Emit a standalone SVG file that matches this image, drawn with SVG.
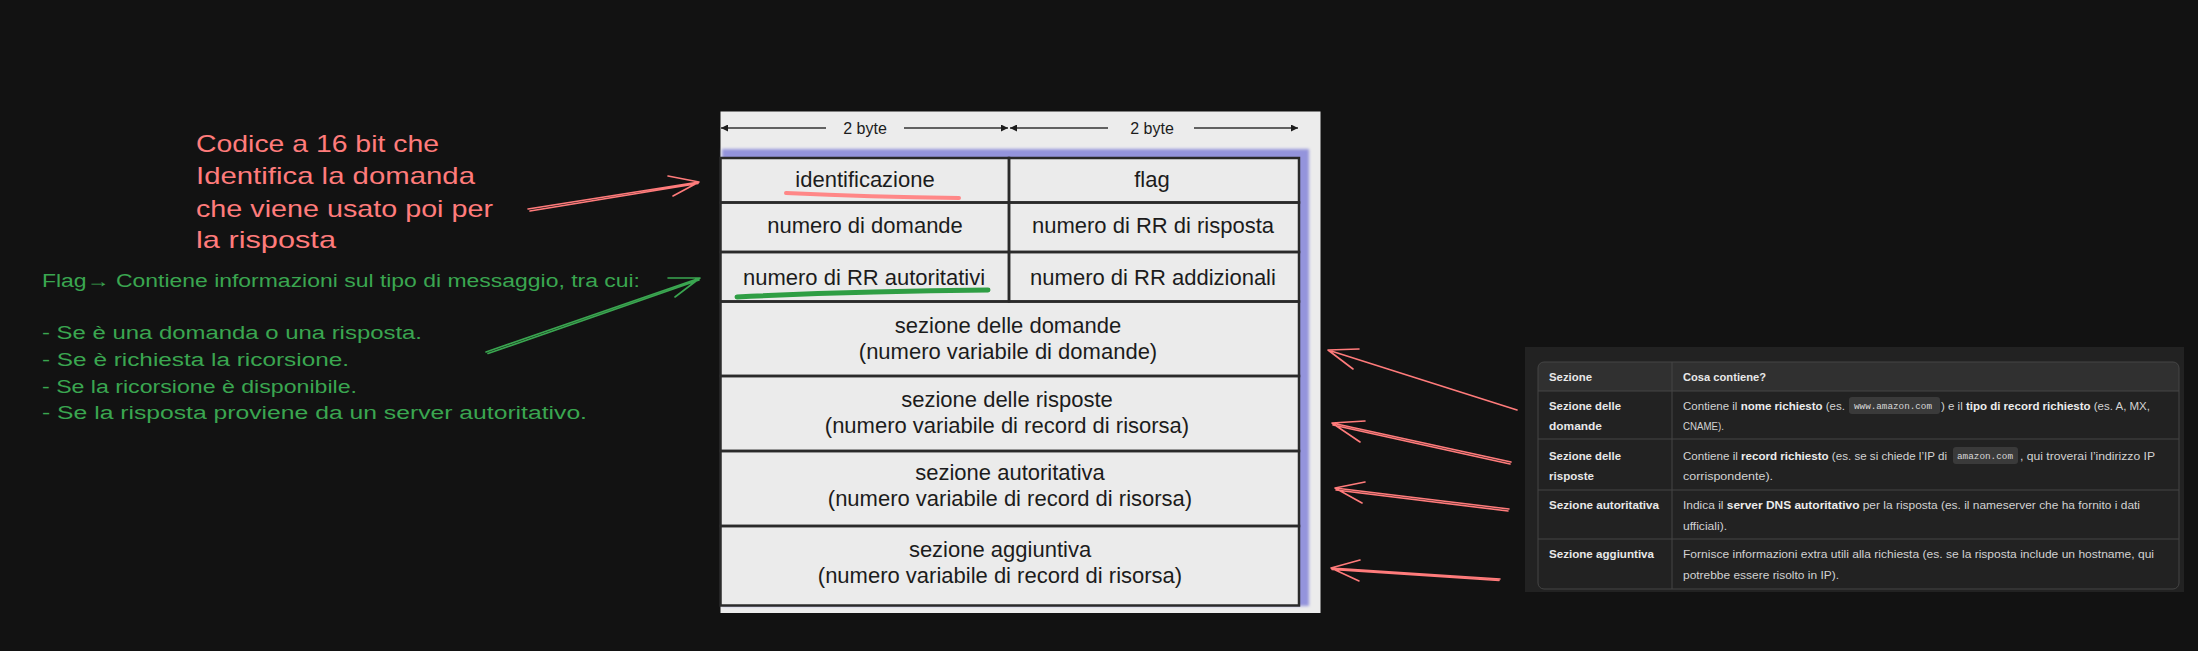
<svg xmlns="http://www.w3.org/2000/svg" width="2198" height="651" viewBox="0 0 2198 651">
<style>
.cell{font-family:"Liberation Sans",Arial,sans-serif;font-size:22px;fill:#1c1c1c;text-anchor:middle}
.byte{font-family:"Liberation Sans",Arial,sans-serif;font-size:16px;fill:#1c1c1c;text-anchor:middle}
.red{font-family:"Liberation Sans",Arial,sans-serif;font-size:24px;fill:#ff7b7b}
.green{font-family:"Liberation Sans",Arial,sans-serif;font-size:18px;fill:#3aa650}
.th{font-family:"Liberation Sans",Arial,sans-serif;font-size:11.6px;font-weight:700;fill:#e8e8e8}
.td{font-family:"Liberation Sans",Arial,sans-serif;font-size:11.2px;fill:#d2d2d2}
.td tspan.b{font-weight:700;fill:#ececec}
.code{font-family:"Liberation Mono",monospace;font-size:9.3px;fill:#d8d8d8}
.chip{fill:#3a3a3a}
.grid{stroke:#2a2a2a;stroke-width:2.5;fill:none}
.rgrid{stroke:#444;stroke-width:1;fill:none}
.ra{stroke:#ff7b7b;stroke-width:1.6;fill:none;stroke-linecap:round;stroke-linejoin:round}
.ga{stroke:#3aa650;stroke-width:1.6;fill:none;stroke-linecap:round;stroke-linejoin:round}
.dim{stroke:#333;stroke-width:1.6}
</style>
<defs>
<filter id="blur" x="-5%" y="-5%" width="110%" height="110%"><feGaussianBlur stdDeviation="1.6"/></filter>
<marker id="tri" viewBox="0 0 10 10" refX="10" refY="5" markerWidth="7" markerHeight="7" markerUnits="userSpaceOnUse" orient="auto-start-reverse"><path d="M0,0 L10,5 L0,10 z" fill="#1c1c1c"/></marker>
</defs>
<rect x="0" y="0" width="2198" height="651" fill="#121212"/>

<g id="dns-message-panel">
<rect x="720.5" y="111.5" width="600" height="501.5" fill="#ececec"/>
<rect x="722" y="149" width="587" height="457" fill="#9494dc" filter="url(#blur)"/>
<rect x="720.5" y="158" width="578.5" height="447.5" fill="#ebebeb"/>
</g>

<g id="byte-ruler">
<line class="dim" x1="721" y1="128" x2="826" y2="128" marker-start="url(#tri)"/>
<line class="dim" x1="904" y1="128" x2="1008" y2="128" marker-end="url(#tri)"/>
<line class="dim" x1="1010" y1="128" x2="1108" y2="128" marker-start="url(#tri)"/>
<line class="dim" x1="1194" y1="128" x2="1298" y2="128" marker-end="url(#tri)"/>
<text class="byte" x="865" y="134">2 byte</text>
<text class="byte" x="1152" y="134">2 byte</text>
</g>

<g id="row-identificazione">
<rect class="grid" x="720.5" y="158" width="288.5" height="44.5"/>
<text class="cell" x="865" y="187">identificazione</text>
</g>
<g id="row-flag">
<rect class="grid" x="1009" y="158" width="290" height="44.5"/>
<text class="cell" x="1152" y="187">flag</text>
</g>
<g id="row-numero-domande">
<rect class="grid" x="720.5" y="202.5" width="288.5" height="49.5"/>
<text class="cell" x="865" y="233">numero di domande</text>
</g>
<g id="row-numero-rr-risposta">
<rect class="grid" x="1009" y="202.5" width="290" height="49.5"/>
<text class="cell" x="1153" y="233">numero di RR di risposta</text>
</g>
<g id="row-numero-rr-autoritativi">
<rect class="grid" x="720.5" y="252" width="288.5" height="49.5"/>
<text class="cell" x="864" y="285">numero di RR autoritativi</text>
</g>
<g id="row-numero-rr-addizionali">
<rect class="grid" x="1009" y="252" width="290" height="49.5"/>
<text class="cell" x="1153" y="285">numero di RR addizionali</text>
</g>
<g id="sezione-domande">
<rect class="grid" x="720.5" y="301.5" width="578.5" height="74.5"/>
<text class="cell" x="1008" y="333">sezione delle domande</text>
<text class="cell" x="1008" y="359">(numero variabile di domande)</text>
</g>
<g id="sezione-risposte">
<rect class="grid" x="720.5" y="376" width="578.5" height="75"/>
<text class="cell" x="1007" y="407">sezione delle risposte</text>
<text class="cell" x="1007" y="433">(numero variabile di record di risorsa)</text>
</g>
<g id="sezione-autoritativa">
<rect class="grid" x="720.5" y="451" width="578.5" height="75"/>
<text class="cell" x="1010" y="480">sezione autoritativa</text>
<text class="cell" x="1010" y="506">(numero variabile di record di risorsa)</text>
</g>
<g id="sezione-aggiuntiva">
<rect class="grid" x="720.5" y="526" width="578.5" height="79.5"/>
<text class="cell" x="1000" y="557">sezione aggiuntiva</text>
<text class="cell" x="1000" y="583">(numero variabile di record di risorsa)</text>
</g>

<g id="underlines">
<path d="M786,193 Q870,197 959,198" stroke="#ff8787" stroke-width="4" fill="none" stroke-linecap="round"/>
<path d="M737,297 Q860,291 988,290" stroke="#2f9e44" stroke-width="5" fill="none" stroke-linecap="round"/>
</g>

<g id="note-identificazione">
<text class="red" x="196" y="152" textLength="243" lengthAdjust="spacingAndGlyphs">Codice a 16 bit che</text>
<text class="red" x="196" y="184" textLength="279" lengthAdjust="spacingAndGlyphs">Identifica la domanda</text>
<text class="red" x="196" y="217" textLength="297" lengthAdjust="spacingAndGlyphs">che viene usato poi per</text>
<text class="red" x="196" y="248" textLength="140" lengthAdjust="spacingAndGlyphs">la risposta</text>
</g>

<g id="note-flag">
<text class="green" x="42" y="287" textLength="598" lengthAdjust="spacingAndGlyphs">Flag→ Contiene informazioni sul tipo di messaggio, tra cui:</text>
<text class="green" x="42" y="339" textLength="380" lengthAdjust="spacingAndGlyphs">- Se è una domanda o una risposta.</text>
<text class="green" x="42" y="366" textLength="307" lengthAdjust="spacingAndGlyphs">- Se è richiesta la ricorsione.</text>
<text class="green" x="42" y="393" textLength="315" lengthAdjust="spacingAndGlyphs">- Se la ricorsione è disponibile.</text>
<text class="green" x="42" y="419" textLength="545" lengthAdjust="spacingAndGlyphs">- Se la risposta proviene da un server autoritativo.</text>
</g>

<g id="sections-table">
<rect x="1525" y="347" width="659" height="245" fill="#222222"/>
<path d="M1538,391 V368 Q1538,362 1544,362 H2173 Q2179,362 2179,368 V391 Z" fill="#303030"/>
<rect class="rgrid" x="1538" y="362" width="641" height="227" rx="6"/>
<line class="rgrid" x1="1538" y1="391" x2="2179" y2="391"/>
<line class="rgrid" x1="1538" y1="439" x2="2179" y2="439"/>
<line class="rgrid" x1="1538" y1="490" x2="2179" y2="490"/>
<line class="rgrid" x1="1538" y1="539" x2="2179" y2="539"/>
<line class="rgrid" x1="1672" y1="362" x2="1672" y2="589"/>
<text class="th" x="1549" y="381" textLength="43" lengthAdjust="spacingAndGlyphs">Sezione</text>
<text class="th" x="1683" y="381" textLength="83" lengthAdjust="spacingAndGlyphs">Cosa contiene?</text>
<text class="th" x="1549" y="410" textLength="72" lengthAdjust="spacingAndGlyphs">Sezione delle</text>
<text class="th" x="1549" y="430" textLength="53" lengthAdjust="spacingAndGlyphs">domande</text>
<text class="th" x="1549" y="460" textLength="72" lengthAdjust="spacingAndGlyphs">Sezione delle</text>
<text class="th" x="1549" y="480" textLength="45" lengthAdjust="spacingAndGlyphs">risposte</text>
<text class="th" x="1549" y="509" textLength="110" lengthAdjust="spacingAndGlyphs">Sezione autoritativa</text>
<text class="th" x="1549" y="558" textLength="105" lengthAdjust="spacingAndGlyphs">Sezione aggiuntiva</text>
<rect class="chip" x="1849" y="397" width="91" height="17" rx="3"/>
<rect class="chip" x="1953" y="447" width="65" height="17" rx="3"/>
<text class="td" x="1683" y="410" textLength="162" lengthAdjust="spacingAndGlyphs">Contiene il <tspan class="b">nome richiesto</tspan> (es.</text>
<text class="code" x="1854" y="409" textLength="78" lengthAdjust="spacingAndGlyphs">www.amazon.com</text>
<text class="td" x="1941" y="410" textLength="209" lengthAdjust="spacingAndGlyphs">) e il <tspan class="b">tipo di record richiesto</tspan> (es. A, MX,</text>
<text class="td" x="1683" y="430" textLength="41" lengthAdjust="spacingAndGlyphs">CNAME).</text>
<text class="td" x="1683" y="460" textLength="264" lengthAdjust="spacingAndGlyphs">Contiene il <tspan class="b">record richiesto</tspan> (es. se si chiede l’IP di</text>
<text class="code" x="1957" y="459" textLength="56" lengthAdjust="spacingAndGlyphs">amazon.com</text>
<text class="td" x="2020" y="460" textLength="135" lengthAdjust="spacingAndGlyphs">, qui troverai l’indirizzo IP</text>
<text class="td" x="1683" y="480" textLength="90" lengthAdjust="spacingAndGlyphs">corrispondente).</text>
<text class="td" x="1683" y="509" textLength="457" lengthAdjust="spacingAndGlyphs">Indica il <tspan class="b">server DNS autoritativo</tspan> per la risposta (es. il nameserver che ha fornito i dati</text>
<text class="td" x="1683" y="530" textLength="44" lengthAdjust="spacingAndGlyphs">ufficiali).</text>
<text class="td" x="1683" y="558" textLength="471" lengthAdjust="spacingAndGlyphs">Fornisce informazioni extra utili alla richiesta (es. se la risposta include un hostname, qui</text>
<text class="td" x="1683" y="579" textLength="156" lengthAdjust="spacingAndGlyphs">potrebbe essere risolto in IP).</text>
</g>

<g id="connectors">
<path class="ra" d="M528,209 L699,182 M530,211 L698,183.5 M668,176 L699,182 L673,196"/>
<path class="ga" d="M486,352 L700,278 M488,353.5 L699,280 M668,278 L700,278 L675,297"/>
<path class="ra" d="M1517,410 L1328,350 M1359,349 L1328,350 L1353,369"/>
<path class="ra" d="M1511,462 L1332,423 M1510,464 L1333,425 M1365,421 L1332,423 L1360,442"/>
<path class="ra" d="M1509,509 L1335,488 M1508,511 L1336,490 M1365,482 L1335,488 L1362,503"/>
<path class="ra" d="M1500,579 L1331,568 M1499,580.5 L1332,569.5 M1360,560 L1331,568 L1359,581"/>
</g>
</svg>
